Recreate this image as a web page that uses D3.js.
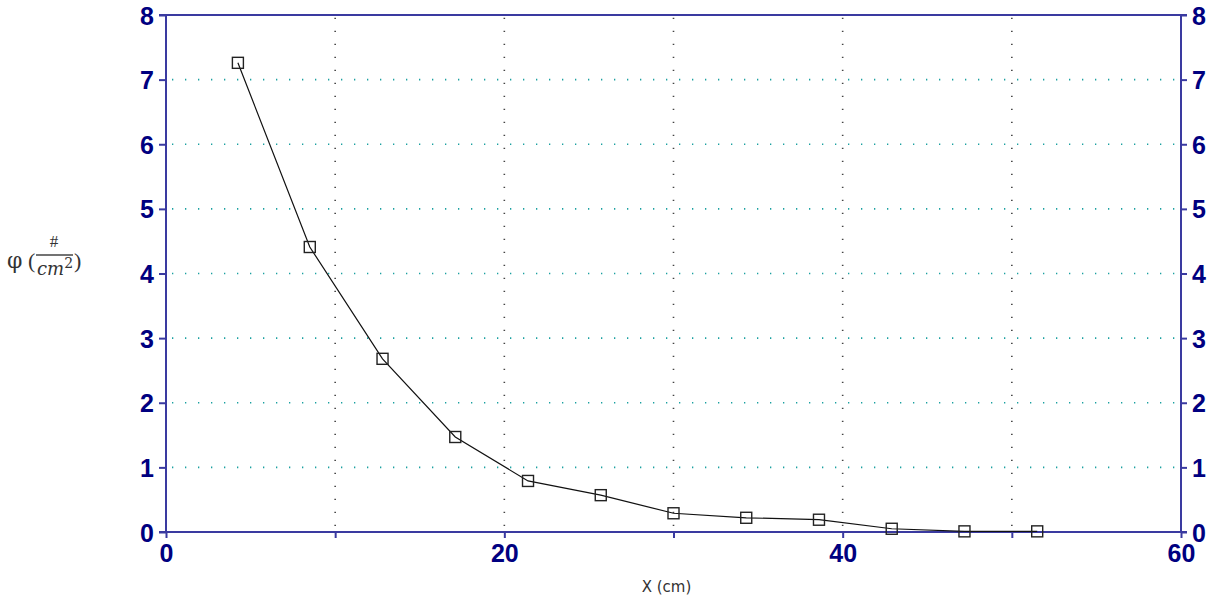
<!DOCTYPE html>
<html><head><meta charset="utf-8">
<script src="https://cdn.jsdelivr.net/npm/d3@7"></script>
<style>body{margin:0;background:#fff}svg{display:block}</style>
</head><body>
<script>
const xValues = [4.25, 8.5, 12.8, 17.1, 21.4, 25.7, 30.0, 34.3, 38.6, 42.9, 47.2, 51.5];
const yValues = [7.26, 4.41, 2.68, 1.47, 0.79, 0.57, 0.29, 0.22, 0.19, 0.05, 0.01, 0.01];
const xTicks = [0, 10, 20, 30, 40, 50, 60];
const xTickLabels = ["0", "", "20", "", "40", "", "60"];
const yTicks = [0, 1, 2, 3, 4, 5, 6, 7, 8];
const xTitle = "X (cm)";

const W = 1209, H = 598;
const L = 166, R = 1181, T = 15, B = 532;
const axisColor = "#3a3aa0", labelColor = "#000080";

const svg = d3.select("body").append("svg").attr("width", W).attr("height", H);
const x = d3.scaleLinear().domain([0, 60]).range([L, R]);
const y = d3.scaleLinear().domain([0, 8]).range([B, T]);

// grid
svg.append("g").selectAll("line").data(yTicks.filter(d => d > 0 && d < 8)).join("line")
  .attr("x1", L + 6).attr("x2", R).attr("y1", d => y(d)).attr("y2", d => y(d))
  .attr("stroke", "#1aa0a0").attr("stroke-width", 1.6).attr("stroke-dasharray", "1.3,11.7");
svg.append("g").selectAll("line").data(xTicks.filter(d => d > 0 && d < 60)).join("line")
  .attr("x1", d => x(d)).attr("x2", d => x(d)).attr("y1", B - 6).attr("y2", T)
  .attr("stroke", "#444").attr("stroke-width", 1.6).attr("stroke-dasharray", "1.3,11.7");

// axes
const fontAx = "bold 25px 'Liberation Sans', Arial, sans-serif";
const gl = svg.append("g").attr("transform", `translate(${L},0)`)
  .call(d3.axisLeft(y).tickValues(yTicks).tickSize(7).tickPadding(5).tickFormat(d3.format("d")));
const gr = svg.append("g").attr("transform", `translate(${R},0)`)
  .call(d3.axisRight(y).tickValues(yTicks).tickSize(6).tickPadding(5).tickFormat(d3.format("d")));
const gb = svg.append("g").attr("transform", `translate(0,${B})`)
  .call(d3.axisBottom(x).tickValues(xTicks).tickSize(6).tickPadding(6).tickFormat((d, i) => xTickLabels[i]));
const gt = svg.append("g").attr("transform", `translate(0,${T})`)
  .call(d3.axisTop(x).tickValues([]).tickSize(0));
[gl, gr, gb, gt].forEach(g => {
  g.select(".domain").attr("stroke", axisColor).attr("stroke-width", 2);
  g.selectAll(".tick line").attr("stroke", axisColor).attr("stroke-width", 2);
  g.selectAll("text").attr("fill", labelColor).style("font", fontAx);
});
gl.selectAll("text").attr("dy", "0.36em");
gr.selectAll("text").attr("dy", "0.36em");
gb.selectAll("text").attr("dy", "0.72em");
gl.select(".domain").attr("d", `M0,${T}V${B}`);
gr.select(".domain").attr("d", `M0,${T}V${B}`);
gb.select(".domain").attr("d", `M${L - 7},0H${R + 6}`);
gt.select(".domain").attr("d", `M${L - 7},0H${R + 6}`);

// line + markers
const pts = xValues.map((v, i) => [v, yValues[i]]);
svg.append("path").datum(pts)
  .attr("d", d3.line().x(d => x(d[0])).y(d => y(d[1])))
  .attr("fill", "none").attr("stroke", "#111").attr("stroke-width", 1.2);
svg.append("g").selectAll("rect").data(pts).join("rect")
  .attr("x", d => x(d[0]) - 5.5).attr("y", d => y(d[1]) - 5.5)
  .attr("width", 11).attr("height", 11)
  .attr("fill", "none").attr("stroke", "#222").attr("stroke-width", 1.4);

// titles
svg.append("text").attr("x", (L + R) / 2 - 7).attr("y", 592).attr("text-anchor", "middle")
  .attr("fill", "#333").style("font", "15px 'DejaVu Sans', sans-serif").text(xTitle);

const yt = svg.append("g").attr("fill", "#333");
yt.append("text").attr("x", 7).attr("y", 268).style("font", "22px 'DejaVu Serif', serif").text("φ");
yt.append("text").attr("x", 28).attr("y", 268).style("font", "22px 'Liberation Serif', serif").text("(");
yt.append("text").attr("x", 54).attr("y", 247).attr("text-anchor", "middle")
  .style("font", "17px 'Liberation Serif', serif").text("#");
yt.append("line").attr("x1", 36).attr("x2", 73).attr("y1", 255).attr("y2", 255)
  .attr("stroke", "#444").attr("stroke-width", 1.4);
const cm = yt.append("text").attr("x", 37).attr("y", 275).style("font", "italic 18px 'DejaVu Serif', serif");
cm.append("tspan").text("cm");
cm.append("tspan").attr("dy", -7).style("font-size", "14px").style("font-style", "normal").text("2");
yt.append("text").attr("x", 74).attr("y", 268).style("font", "22px 'Liberation Serif', serif").text(")");
</script>
</body></html>
